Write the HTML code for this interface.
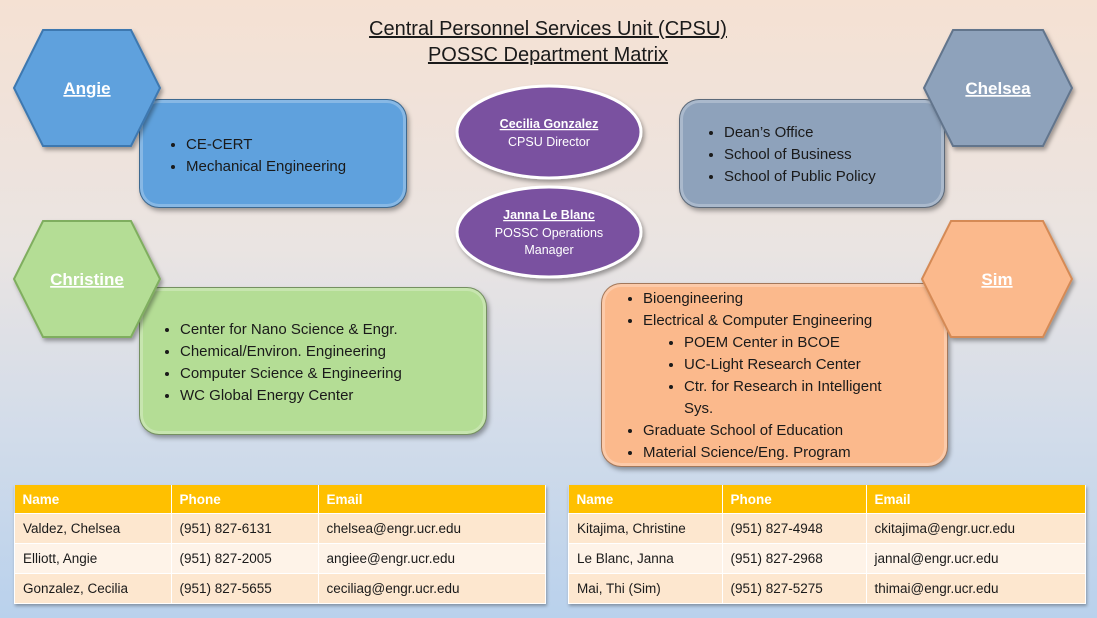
<!DOCTYPE html>
<html><head><meta charset="utf-8"><style>
html,body{margin:0;padding:0}
body{width:1097px;height:618px;position:relative;overflow:hidden;background:linear-gradient(180deg,#f5e1d3 0%,#eae4e2 40%,#d2dcea 70%,#b9d1ec 100%);font-family:"Liberation Sans",sans-serif;color:#1a1a1a}
.abs{position:absolute}
.box{position:absolute;border-radius:20px;box-shadow:2px 3px 5px rgba(0,0,0,.35), inset 0 0 0 3px rgba(255,255,255,.25);border:1px solid rgba(0,0,0,.35)}
ul{margin:0;padding:0 0 0 20px;font-size:15px;line-height:22px}
ul ul{padding-left:24px;list-style:disc}
.t{font-size:20px;text-align:center;text-decoration:underline;line-height:26px}
table{position:absolute;border-collapse:collapse;font-size:13.5px;box-shadow:1px 2px 3px rgba(0,0,0,.3)}
td{border:1px solid #fff;padding:0 8px;height:29px}
th{background:#ffc000;color:#fff;text-align:left;padding:0 8px;height:28px;border-right:1px solid #fff;font-size:13.5px}
tr.a td{background:#fde7cf}tr.b td{background:#fef3e8}
.hl{font-size:17px;font-weight:bold;fill:#fff;text-decoration:underline}
</style></head><body>
<div class="abs t" style="left:300px;top:16px;width:496px">Central Personnel Services Unit (CPSU)<br>POSSC Department Matrix</div>

<div class="box" style="left:139px;top:99px;width:266px;height:107px;background:#5fa1dd">
<ul style="margin-top:34px;margin-left:26px"><li>CE-CERT</li><li>Mechanical Engineering</li></ul></div>
<div class="box" style="left:679px;top:99px;width:264px;height:107px;background:#8ea2bb">
<ul style="margin-top:22px;margin-left:24px"><li>Dean’s Office</li><li>School of Business</li><li>School of Public Policy</li></ul></div>
<div class="box" style="left:139px;top:287px;width:346px;height:146px;background:#b4dd95">
<ul style="margin-top:31px;margin-left:20px"><li>Center for Nano Science &amp; Engr.</li><li>Chemical/Environ. Engineering</li><li>Computer Science &amp; Engineering</li><li>WC Global Energy Center</li></ul></div>
<div class="box" style="left:601px;top:283px;width:345px;height:182px;background:#fbb98c">
<ul style="margin-top:4px;margin-left:6px;padding-left:35px;width:260px"><li>Bioengineering</li><li>Electrical &amp; Computer Engineering<ul style="padding-left:41px"><li>POEM Center in BCOE</li><li>UC-Light Research Center</li><li>Ctr. for Research in Intelligent Sys.</li></ul></li><li>Graduate School of Education</li><li>Material Science/Eng. Program</li></ul></div>

<svg class="abs" style="left:0;top:0" width="1097" height="618">
<defs><filter id="s"><feDropShadow dx="2" dy="3" stdDeviation="2" flood-opacity=".35"/></filter></defs>
<g filter="url(#s)" stroke-width="2">
<polygon points="14,88 43,30 131,30 160,88 131,146 43,146" fill="#5fa1dd" stroke="#3e78b0"/>
<polygon points="924,88 953,30 1043,30 1072,88 1043,146 953,146" fill="#8ea2bb" stroke="#62748c"/>
<polygon points="14,279 43,221 131,221 160,279 131,337 43,337" fill="#b4dd95" stroke="#7fae5e"/>
<polygon points="922,279 951,221 1043,221 1072,279 1043,337 951,337" fill="#fbb98c" stroke="#d58a55"/>
<ellipse cx="549" cy="132" rx="92" ry="46" fill="#7a51a0" stroke="#fff" stroke-width="3"/>
<ellipse cx="549" cy="232" rx="92" ry="45" fill="#7a51a0" stroke="#fff" stroke-width="3"/>
</g>
<text x="87" y="94" text-anchor="middle" class="hl">Angie</text>
<text x="998" y="94" text-anchor="middle" class="hl">Chelsea</text>
<text x="87" y="285" text-anchor="middle" class="hl">Christine</text>
<text x="997" y="285" text-anchor="middle" class="hl">Sim</text>
<g fill="#fff" font-size="12.5" text-anchor="middle">
<text x="549" y="128" font-weight="bold" text-decoration="underline">Cecilia Gonzalez</text>
<text x="549" y="146">CPSU Director</text>
<text x="549" y="219" font-weight="bold" text-decoration="underline">Janna Le Blanc</text>
<text x="549" y="237">POSSC Operations</text>
<text x="549" y="254">Manager</text>
</g>
</svg>

<table style="left:14px;top:485px;width:532px">
<tr><th style="width:140px">Name</th><th style="width:130px">Phone</th><th>Email</th></tr>
<tr class="a"><td>Valdez, Chelsea</td><td>(951) 827-6131</td><td>chelsea@engr.ucr.edu</td></tr>
<tr class="b"><td>Elliott, Angie</td><td>(951) 827-2005</td><td>angiee@engr.ucr.edu</td></tr>
<tr class="a"><td>Gonzalez, Cecilia</td><td>(951) 827-5655</td><td>ceciliag@engr.ucr.edu</td></tr>
</table>
<table style="left:568px;top:485px;width:518px">
<tr><th style="width:137px">Name</th><th style="width:127px">Phone</th><th>Email</th></tr>
<tr class="a"><td>Kitajima, Christine</td><td>(951) 827-4948</td><td>ckitajima@engr.ucr.edu</td></tr>
<tr class="b"><td>Le Blanc, Janna</td><td>(951) 827-2968</td><td>jannal@engr.ucr.edu</td></tr>
<tr class="a"><td>Mai, Thi (Sim)</td><td>(951) 827-5275</td><td>thimai@engr.ucr.edu</td></tr>
</table>
</body></html>
